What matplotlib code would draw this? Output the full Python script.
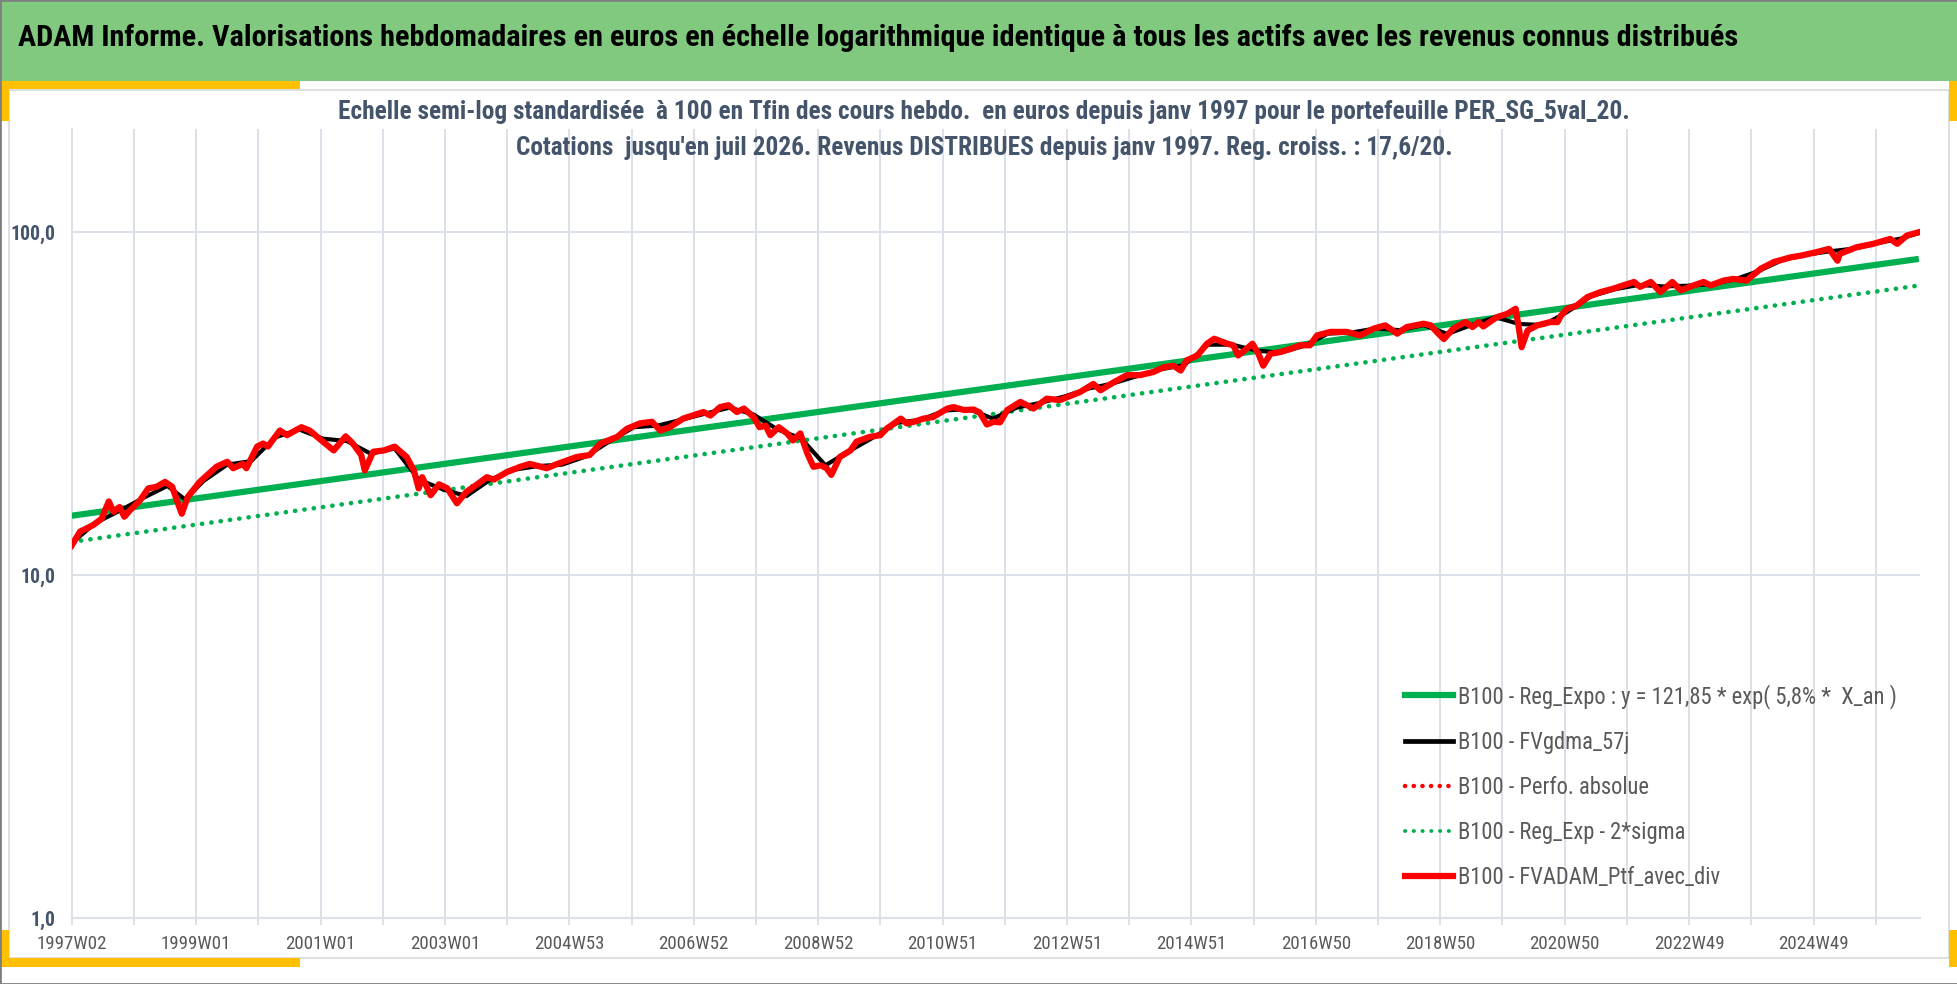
import matplotlib
matplotlib.use("Agg")
import matplotlib.pyplot as plt
from matplotlib.patches import Rectangle
from matplotlib.lines import Line2D
from matplotlib.ticker import FixedLocator, NullLocator

FONT = ["Roboto Condensed", "Liberation Sans", "DejaVu Sans"]
plt.rcParams["font.family"] = FONT

# weekly category index (0 = 1997W02) and B100 values
ptf_weeks = [0, 7, 11, 18, 25, 31, 35, 40, 44, 49, 57, 64, 71, 78, 84, 88, 92, 97, 107, 121,
             130, 135, 143, 146, 155, 160, 164, 174, 180, 192, 199, 210, 219, 229, 235, 242, 245,
             252, 261, 270, 280, 286, 290, 293, 300, 307, 314, 322, 330, 339, 347, 353, 364, 375,
             383, 397, 406, 422, 433, 442, 456, 464, 475, 485, 492, 500, 511, 528, 534, 542, 549,
             556, 562, 570, 575, 580, 584, 591, 598, 603, 609, 615, 620, 626, 631, 635, 642, 651,
             656, 667, 676, 681, 693, 698, 704, 712, 720, 732, 737, 746, 754, 759, 765, 771, 776,
             782, 793, 804, 815, 826, 843, 854, 860, 871, 882, 893, 904, 913, 921, 927, 932, 941,
             949, 955, 966, 971, 975, 982, 987, 992, 996, 1002, 1010, 1019, 1027, 1035, 1041, 1052,
             1066, 1077, 1088, 1098, 1108, 1116, 1130, 1136, 1141, 1147, 1155, 1165, 1171, 1176,
             1180, 1191, 1200, 1207, 1210, 1212, 1217, 1225, 1236, 1242, 1245, 1250, 1258, 1267,
             1278, 1289, 1297, 1306, 1311, 1320, 1328, 1338, 1345, 1356, 1364, 1370, 1381, 1389,
             1400, 1412, 1423, 1437, 1445, 1458, 1469, 1476, 1478, 1492, 1506, 1520, 1526, 1534, 1544]
ptf_values = [12.2, 13.4, 13.6, 14.0, 14.6, 16.4, 15.3, 15.8, 14.8, 15.5, 16.5, 17.9, 18.1, 18.7, 18.1,
              16.5, 15.1, 16.9, 18.7, 20.7, 21.4, 20.5, 21.1, 20.5, 23.7, 24.2, 23.7, 26.4, 25.6, 27.0,
              26.4, 24.5, 23.1, 25.4, 24.2, 22.4, 20.2, 22.9, 23.1, 23.7, 22.1, 20.2, 17.9, 19.3, 17.1,
              18.4, 17.9, 16.2, 17.5, 18.4, 19.3, 19.0, 20.0, 20.7, 21.1, 20.5, 21.1, 22.1, 22.4, 24.2,
              25.3, 26.7, 27.7, 28.0, 26.4, 27.0, 28.6, 29.9, 29.2, 30.9, 31.3, 29.9, 30.6, 28.9, 27.0,
              27.3, 25.6, 27.0, 25.9, 24.7, 25.9, 22.6, 20.7, 20.9, 20.5, 19.6, 22.1, 23.1, 24.5, 25.3,
              25.6, 26.7, 28.6, 27.7, 28.0, 28.6, 28.9, 30.6, 30.9, 30.3, 30.4, 29.8, 27.5, 28.0, 27.9,
              30.3, 32.0, 30.6, 32.7, 32.4, 34.2, 36.1, 34.6, 36.5, 38.3, 38.3, 39.1, 40.4, 40.8, 39.5,
              42.3, 43.7, 47.3, 48.9, 47.3, 46.8, 43.7, 45.7, 47.3, 44.2, 40.8, 44.2, 44.7, 45.7, 46.8,
              46.8, 50.0, 51.2, 51.2, 50.0, 52.3, 53.5, 50.6, 52.9, 54.1, 53.5, 51.2, 48.8, 52.4, 54.7,
              52.9, 54.7, 53.1, 56.5, 57.8, 59.8, 51.7, 46.2, 51.7, 53.5, 54.7, 54.7, 57.2, 59.8, 61.1,
              64.7, 66.9, 68.5, 70.0, 71.6, 69.3, 71.6, 66.9, 71.6, 67.7, 70.0, 71.6, 70.0, 72.3, 73.1,
              72.3, 78.3, 81.9, 84.5, 85.4, 87.4, 89.4, 82.6, 86.5, 90.4, 92.5, 95.6, 92.5, 97.8, 100.0]

# FVgdma_57j (smoothed series, mostly hidden under the red line)
ma_weeks = [0, 20, 40, 60, 80, 95, 110, 130, 150, 170, 190, 210, 230, 250, 270, 290, 310, 330, 350,
            370, 390, 410, 430, 450, 470, 490, 510, 530, 550, 570, 590, 610, 630, 650, 670, 690, 710,
            730, 750, 770, 790, 810, 830, 850, 870, 890, 910, 930, 950, 970, 990, 1010, 1030, 1050,
            1070, 1090, 1110, 1130, 1150, 1170, 1190, 1210, 1230, 1250, 1270, 1290, 1310, 1330, 1350,
            1370, 1390, 1410, 1430, 1450, 1470, 1490, 1510, 1530, 1544]
ma_values = [12.4, 14.2, 15.4, 16.8, 18.2, 16.6, 18.8, 21.0, 21.5, 25.2, 26.6, 25.0, 24.6, 22.6, 23.4,
             19.0, 17.8, 17.0, 19.0, 20.3, 20.8, 21.0, 22.2, 24.6, 27.0, 27.3, 28.4, 29.6, 30.8, 29.4,
             26.6, 25.0, 20.9, 23.0, 25.2, 27.8, 28.4, 30.2, 30.5, 28.6, 30.8, 31.8, 33.2, 35.0, 36.2,
             38.0, 39.8, 41.0, 47.0, 47.0, 45.2, 44.5, 46.6, 50.6, 51.0, 52.4, 51.8, 53.6, 50.5, 53.6,
             56.5, 54.0, 53.6, 58.5, 65.0, 68.2, 70.2, 69.5, 69.8, 70.5, 72.8, 77.0, 83.0, 86.0, 88.0,
             89.6, 93.0, 96.0, 99.5]

# regression lines (straight in log scale): first and last week
reg_weeks = [0, 1544]
reg_values = [14.9, 83.6]
reg_low_values = [12.5, 69.9]

xtick_labels = ["1997W02", "1999W01", "2001W01", "2003W01", "2004W53", "2006W52", "2008W52",
                "2010W51", "2012W51", "2014W51", "2016W50", "2018W50", "2020W50", "2022W49",
                "2024W49"]
ytick_values = [1, 10, 100]
ytick_labels = ["1,0", "10,0", "100,0"]

legend_labels = ["B100 - Reg_Expo : y = 121,85 * exp( 5,8% *  X_an )",
                 "B100 - FVgdma_57j",
                 "B100 - Perfo. absolue",
                 "B100 - Reg_Exp - 2*sigma",
                 "B100 - FVADAM_Ptf_avec_div"]

title = ("ADAM Informe. Valorisations hebdomadaires en euros en échelle logarithmique "
         "identique à tous les actifs avec les revenus connus distribués")
subtitle1 = ("Echelle semi-log standardisée  à 100 en Tfin des cours hebdo.  en euros depuis "
             "janv 1997 pour le portefeuille PER_SG_5val_20.")
subtitle2 = "Cotations  jusqu'en juil 2026. Revenus DISTRIBUES depuis janv 1997. Reg. croiss. : 17,6/20."

GREEN = "#00B050"
RED = "#FF0000"
GRID = "#DCE0E8"
W, H = 1958, 984

fig = plt.figure(figsize=(W / 100, H / 100), dpi=100)
renderer = fig.canvas.get_renderer()


def px(x, y):
    return x / W, 1 - y / H


def fit_width(texts, target):
    # scale font size so the first text spans the target width in pixels
    w = texts[0].get_window_extent(renderer).width
    size = texts[0].get_fontsize() * target / w
    for t in texts:
        t.set_fontsize(size)
    return size


# header band, frame and orange corner marks
fig.patches.append(Rectangle((0, 1 - 81 / H), 1, 81 / H, transform=fig.transFigure,
                             facecolor="#80C97E", edgecolor="none", zorder=0))
fig.patches.append(Rectangle(px(9, 958), 1940 / W, (958 - 90) / H, transform=fig.transFigure,
                             facecolor="none", edgecolor="#D9D9D9", lw=1.2, zorder=1))
for (x0, y0, w, h) in [(0, 81, 300, 8), (0, 81, 9, 40), (0, 958, 300, 9), (0, 930, 9, 37),
                       (1949, 81, 9, 40), (1949, 930, 9, 37)]:
    fig.patches.append(Rectangle(px(x0, y0 + h), w / W, h / H, transform=fig.transFigure,
                                 facecolor="#FFC000", edgecolor="none", zorder=2))
fig.patches.append(Rectangle((0, 0), 1, 1, transform=fig.transFigure, facecolor="none",
                             edgecolor="#7F7F7F", lw=2, zorder=3))

t_title = fig.text(*px(18, 38), title, ha="left", va="center", fontsize=20, fontweight="bold",
                   color="black")
fit_width([t_title], 1712)
t_sub1 = fig.text(*px(984, 112), subtitle1, ha="center", va="center", fontsize=16,
                  fontweight="bold", color="#44546A")
fit_width([t_sub1], 1293)
t_sub2 = fig.text(*px(984, 148), subtitle2, ha="center", va="center", fontsize=16,
                  fontweight="bold", color="#44546A")
t_sub2.set_fontsize(t_sub1.get_fontsize())

left, right, top, bottom = 71.7, 1920, 129, 918
ax = fig.add_axes([left / W, 1 - bottom / H, (right - left) / W, (bottom - top) / H])
ax.set_yscale("log")
ax.set_ylim(1, 200)
ax.set_xlim(0, 1545)

ax.plot(reg_weeks, reg_values, color=GREEN, lw=4.5, solid_capstyle="butt", zorder=3)
ax.plot(reg_weeks, reg_low_values, color=GREEN, lw=3.3, linestyle=(0, (0.05, 2.0)),
        dash_capstyle="round", zorder=3)
ax.plot(ma_weeks, ma_values, color="black", lw=3.0, zorder=4)
ax.plot(ptf_weeks, ptf_values, color=RED, lw=3.0, linestyle=(0, (0.05, 2.0)),
        dash_capstyle="round", zorder=4)
ax.plot(ptf_weeks, ptf_values, color=RED, lw=4.5, solid_joinstyle="round", zorder=5)

ax.yaxis.set_major_locator(FixedLocator(ytick_values))
ax.yaxis.set_minor_locator(NullLocator())
ax.set_yticklabels(ytick_labels)
xticks = list(range(0, 1545, 52))
ax.xaxis.set_major_locator(FixedLocator(xticks))
ax.xaxis.set_minor_locator(NullLocator())
ax.set_xticklabels([xtick_labels[i // 2] if i % 2 == 0 else "" for i in range(len(xticks))])

ax.grid(True, which="major", color=GRID, lw=1.4)
ax.set_axisbelow(True)
for side in ["top", "right"]:
    ax.spines[side].set_visible(False)
ax.spines["left"].set_color(GRID)
ax.spines["left"].set_linewidth(1.4)
ax.spines["bottom"].set_color(GRID)
ax.spines["bottom"].set_linewidth(1.6)
ax.tick_params(axis="y", length=0, pad=12, labelsize=14, labelcolor="#44546A")
for lab in ax.get_yticklabels():
    lab.set_fontweight("bold")
ax.tick_params(axis="x", length=5, width=1.4, color=GRID, pad=7, labelsize=13,
               labelcolor="#595959")
ylabs = ax.get_yticklabels()
fit_width([ylabs[2], ylabs[0], ylabs[1]], 45)
xlabs = ax.get_xticklabels()
fit_width(xlabs, 70)

# legend font size from the width of its last label
probe = fig.text(0, 0, legend_labels[-1], fontsize=14)
leg_size = fit_width([probe], 263)
probe.remove()
em = leg_size * 100 / 72
handles = [Line2D([], [], color=GREEN, lw=4.5),
           Line2D([], [], color="black", lw=3.4),
           Line2D([], [], color=RED, lw=3.2, linestyle=(0, (0.05, 1.9)), dash_capstyle="round"),
           Line2D([], [], color=GREEN, lw=2.8, linestyle=(0, (0.05, 2.2)), dash_capstyle="round"),
           Line2D([], [], color=RED, lw=4.5)]
leg = fig.legend(handles, legend_labels, loc="upper left", bbox_to_anchor=px(1405, 684),
                 frameon=False, fontsize=leg_size, handlelength=48 / em,
                 handletextpad=5 / em, borderpad=0, borderaxespad=0,
                 labelspacing=(49 - 1.2 * em) / em, labelcolor="#595959")

fig.savefig("out.png", dpi=100)
